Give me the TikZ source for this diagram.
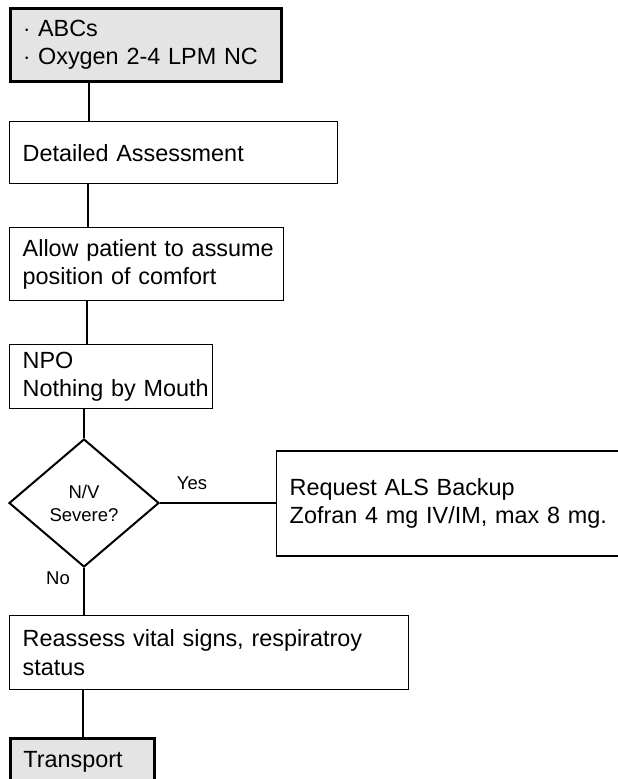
\documentclass[tikz,border=0pt]{standalone}
\usepackage{fontspec}
\setmainfont{Liberation Sans}
\usetikzlibrary{shapes.geometric}
\definecolor{boxgray}{HTML}{E4E4E4}
\begin{document}
\begin{tikzpicture}[x=1pt,y=-1pt,
  box/.style={draw=black, line width=1.4pt, rectangle, inner xsep=13pt, inner ysep=0pt,
    align=left, anchor=north west, font=\fontsize{23.4}{28.5}\selectfont},
  heavybox/.style={box, line width=2.8pt, fill=boxgray},
  decision/.style={draw=black, line width=2pt, diamond, inner sep=0pt, align=center,
    minimum width=150pt, minimum height=128pt, font=\fontsize{18.5}{23}\selectfont},
  small/.style={inner sep=0pt, font=\fontsize{18.5}{23}\selectfont},
  conn/.style={draw=black, line width=1.3pt}
]
\useasboundingbox (0,0) rectangle (618,779);
\clip (0,0) rectangle (618,779);
\fill[white] (0,0) rectangle (618,779);

\node[heavybox, text width=245pt, minimum height=73pt] (abc) at (9,7)
  {\mbox{$\cdot$ ABCs}\\\mbox{$\cdot$ Oxygen 2-4 LPM NC}};
\node[box, text width=302pt, minimum height=62pt] (det) at (9,121)
  {\mbox{Detailed Assessment}};
\node[box, text width=248pt, minimum height=73pt] (allow) at (9,227)
  {\mbox{Allow patient to assume}\\\mbox{position of comfort}};
\node[box, text width=177pt, minimum height=64pt] (npo) at (9,344)
  {\mbox{NPO}\\\mbox{Nothing by Mouth}};
\node[decision] (dia) at (84,503) {N/V\\Severe?};
\node[box, anchor=west, text width=334pt, minimum height=105pt] (als) at (276,503.5)
  {\mbox{Request ALS Backup}\\\mbox{Zofran 4 mg IV/IM, max 8 mg.}};
\node[box, text width=373pt, minimum height=74pt] (reas) at (9,615)
  {\mbox{Reassess vital signs, respiratroy}\\\mbox{status}};
\node[heavybox, text width=118pt, minimum height=46pt] (trans) at (9,737)
  {\mbox{Transport}};

\coordinate (c1) at (89,0);
\coordinate (c2) at (88,0);
\coordinate (c3) at (87,0);
\coordinate (c4) at (83,0);

\draw[conn] (abc.south -| c1) -- (det.north -| c1);
\draw[conn] (det.south -| c2) -- (allow.north -| c2);
\draw[conn] (allow.south -| c3) -- (npo.north -| c3);
\draw[conn] (npo.south -| dia.north) -- (dia.north);
\draw[conn] (dia.east) -- (als.west |- dia.east);
\draw[conn] (dia.south) -- (reas.north -| dia.south);
\draw[conn] (reas.south -| c4) -- (trans.north -| c4);

\node[small] (yes) at (192,483) {Yes};
\node[small] (no) at (58,578) {No};
\end{tikzpicture}
\end{document}
